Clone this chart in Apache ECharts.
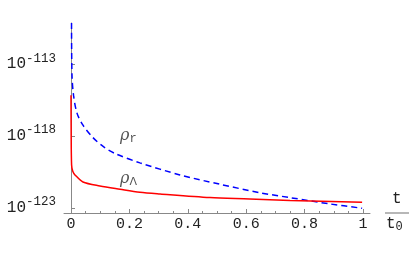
<!DOCTYPE html>
<html><head><meta charset="utf-8">
<script src="https://cdn.jsdelivr.net/npm/echarts@6/dist/echarts.min.js"></script>
<style>html,body{margin:0;padding:0;background:#fff}#c{width:416px;height:257px}</style>
</head><body><div id="c"></div>
<script>
// t / t0
var xTicks = [0, 0.2, 0.4, 0.6, 0.8, 1];
var xMinorTicks = [0.05,0.1,0.15,0.25,0.3,0.35,0.45,0.5,0.55,0.65,0.7,0.75,0.85,0.9,0.95];
// log10 of density
var yTicks = [-123, -118, -113];
var rhoR = [[0.0018,-110.13],[0.0034,-113.76],[0.0086,-115.15],[0.0205,-116.4],[0.041,-117.24],[0.075,-118.1],[0.11,-118.72],[0.15,-119.2],[0.236,-119.86],[0.373,-120.70],[0.510,-121.35],[0.647,-121.94],[0.75,-122.28],[0.887,-122.72],[0.997,-123.02]];
var rhoL = [[0,-115.15],[0.0005,-117.6],[0.002,-120.0],[0.006,-120.45],[0.0137,-120.7],[0.041,-121.19],[0.099,-121.47],[0.168,-121.7],[0.236,-121.91],[0.305,-122.03],[0.476,-122.28],[0.612,-122.37],[0.75,-122.48],[0.997,-122.6]];

var axisCol = '#888';
var txtCol = '#222';
var font = 'Liberation Mono';
var chart = echarts.init(document.getElementById('c'));
chart.setOption({
  animation: false,
  grid: {left: 64, top: 23, width: 306, height: 190},
  xAxis: [{
    type: 'value', min: -0.024, max: 1.024,
    axisLine: {lineStyle: {color: axisCol, width: 1}},
    axisTick: {inside: true, length: 4, customValues: xTicks, lineStyle: {color: axisCol}},
    axisLabel: {customValues: xTicks, margin: 4, color: txtCol, fontFamily: font, fontSize: 15,
      formatter: function(v){ return String(v); }},
    splitLine: {show: false}
  },{
    type: 'value', min: -0.024, max: 1.024, position: 'bottom',
    axisLine: {show: false},
    axisTick: {inside: true, length: 2, customValues: xMinorTicks, lineStyle: {color: axisCol}},
    axisLabel: {show: false},
    splitLine: {show: false}
  }],
  yAxis: {
    type: 'value', min: -123.35, max: -110.13,
    axisLine: {show: true, lineStyle: {color: axisCol, width: 1}},
    axisTick: {show: true, inside: true, length: 4, customValues: yTicks, lineStyle: {color: axisCol}},
    axisLabel: {customValues: yTicks, margin: 8, color: txtCol, fontFamily: font,
      formatter: function(v){ return '{b|10}{s|' + Math.round(v) + '}'; },
      rich: {b: {fontSize: 16, fontFamily: font, color: txtCol}, s: {fontSize: 12.5, fontFamily: font, color: txtCol, padding: [0,0,12,0]}}},
    splitLine: {show: false}
  },
  series: [
    {type: 'line', name: 'rho_r', data: rhoR, showSymbol: false, smooth: 0.3,
      lineStyle: {color: '#0000ff', width: 1.5, type: [6,4]}},
    {type: 'line', name: 'rho_L', data: rhoL, showSymbol: false, smooth: 0.3,
      lineStyle: {color: '#ff0000', width: 1.5}}
  ],
  graphic: [
    {type: 'text', left: 120, top: 128, style: {rich: {a: {fontSize: 16, fontStyle: 'italic', fontFamily: 'DejaVu Serif', fill: '#555'}, b: {fontSize: 12, fontFamily: font, fill: '#555', padding: [6,0,0,0]}}, text: '{a|ρ}{b|r}'}},
    {type: 'text', left: 120, top: 171, style: {rich: {a: {fontSize: 16, fontStyle: 'italic', fontFamily: 'DejaVu Serif', fill: '#555'}, b: {fontSize: 11, fontFamily: 'DejaVu Sans', fill: '#555', padding: [6,0,0,0]}}, text: '{a|ρ}{b|Λ}'}},
    {type: 'text', left: 392, top: 191, style: {text: 't', fontSize: 16, fontFamily: font, fill: txtCol}},
    {type: 'line', shape: {x1: 385, y1: 213, x2: 409, y2: 213}, style: {stroke: '#888', lineWidth: 1.2}},
    {type: 'text', left: 386, top: 216, style: {rich: {a: {fontSize: 16, fontFamily: font, fill: txtCol}, b: {fontSize: 12, fontFamily: font, fill: txtCol, padding: [6,0,0,0]}}, text: '{a|t}{b|0}'}}
  ]
});
</script></body></html>
